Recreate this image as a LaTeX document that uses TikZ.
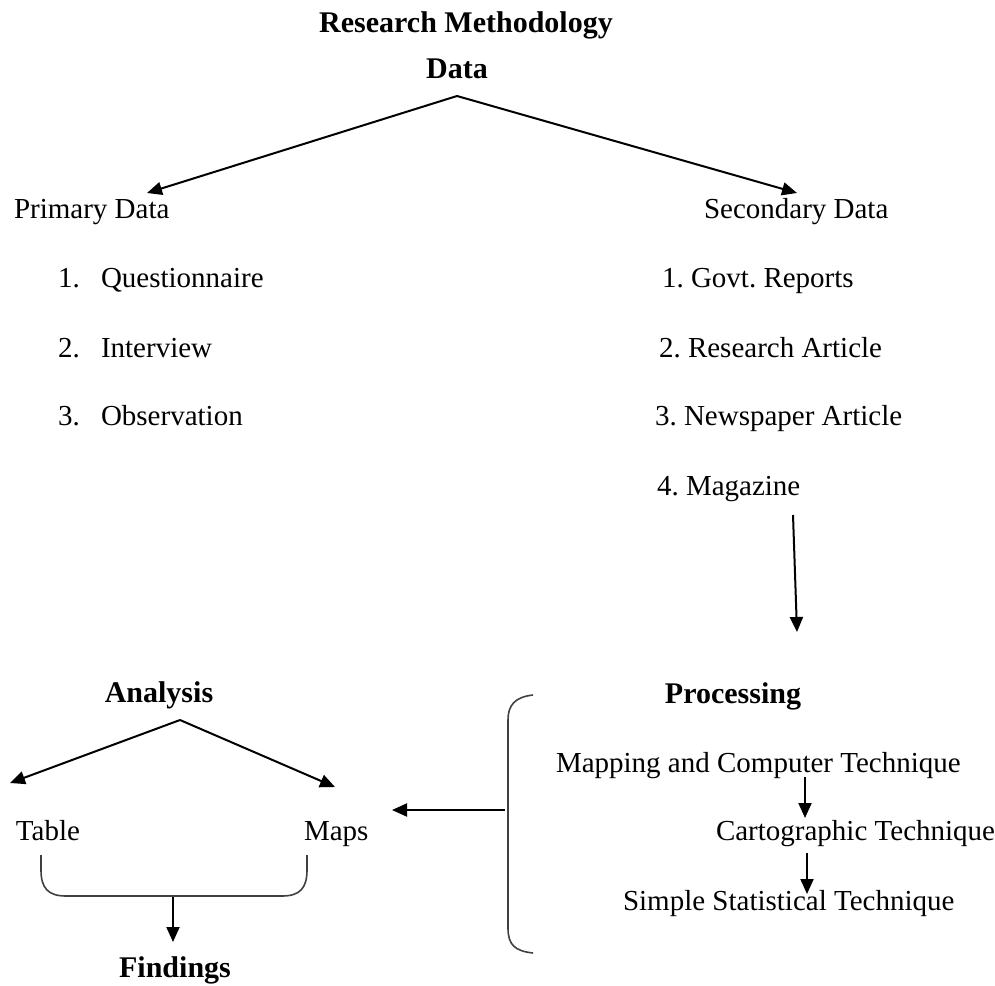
\documentclass[tikz,border=0pt]{standalone}
\usepackage{fontspec}
\setmainfont{Liberation Serif}
\usetikzlibrary{arrows.meta}
\frenchspacing

\tikzset{every picture/.style={line width=2pt}}
\tikzset{
  txt/.style={inner sep=0pt, anchor=base west, font=\fontsize{29}{34}\selectfont},
  ttl/.style={inner sep=0pt, anchor=base, font=\fontsize{30}{34}\selectfont\bfseries},
  arr/.style={-{Triangle[length=15pt,width=13pt]}},
  brk/.style={line width=1.6pt, draw=black!75}
}

\begin{document}
\begin{tikzpicture}[x=1pt,y=1pt,yscale=-1]
\useasboundingbox (0,0) rectangle (995,985);

%Text titles
\node [ttl] (title) at (466,32) {Research Methodology};
\node [ttl] (data) at (457,78) {Data};

%Text primary
\node [txt] (primary) at (13,218) {Primary Data};
\node [txt] (p1) at (57,287) {1.};
\node [txt] (q1) at (100,287) {Questionnaire};
\node [txt] (p2) at (57,357) {2.};
\node [txt] (q2) at (100,357) {Interview};
\node [txt] (p3) at (57,425) {3.};
\node [txt] (q3) at (100,425) {Observation};

%Text secondary
\node [txt] (secondary) at (703,218) {Secondary Data};
\node [txt] (s1) at (661,287) {1. Govt. Reports};
\node [txt] (s2) at (658,357) {2. Research Article};
\node [txt] (s3) at (654,425) {3. Newspaper Article};
\node [txt] (s4) at (656,495) {4. Magazine};

%Text processing
\node [ttl] (processing) at (733,703) {Processing};
\node [txt] (mapping) at (555,772) {Mapping and Computer Technique};
\node [txt] (carto) at (715,840) {Cartographic Technique};
\node [txt] (simple) at (622,910) {Simple Statistical Technique};

%Text analysis
\node [ttl] (analysis) at (159,702) {Analysis};
\node [txt] (table) at (15,840) {Table};
\node [txt] (maps) at (303,840) {Maps};
\node [ttl] (findings) at (175,977) {Findings};

%Arrow ends
\coordinate (data-apex) at (457,96);
\coordinate (primary-tip) at (147,193);
\coordinate (secondary-tip) at (797,193);
\coordinate (mag-start) at (793,515);
\coordinate (proc-tip) at (797,632);
\coordinate (ana-apex) at (180,720);
\coordinate (table-tip) at (10,783);
\coordinate (maps-tip) at (335,787);
\coordinate (join) at (173,896);
\coordinate (find-tip) at (173,942);
\coordinate (brace-mid) at (505,810);
\coordinate (ana-tip) at (392,810);
\coordinate (map-out) at (805,777);
\coordinate (carto-in) at (805,818);
\coordinate (carto-out) at (807,853);
\coordinate (simple-in) at (807,894);

%Straight Lines
\draw [arr] (data-apex) -- (primary-tip);
\draw [arr] (data-apex) -- (secondary-tip);
\draw [arr] (mag-start) -- (proc-tip);
\draw [arr] (ana-apex) -- (table-tip);
\draw [arr] (ana-apex) -- (maps-tip);
\draw [arr] (join) -- (find-tip);
\draw [arr] (brace-mid) -- (ana-tip);
\draw [arr] (map-out) -- (carto-in);
\draw [arr] (carto-out) -- (simple-in);

%Shape: Brace
\draw [brk] (533,695) .. controls (515,697) and (508,705) .. (508,720) -- (508,928) .. controls (508,945) and (515,951) .. (533,953);

%Shape: Bracket
\draw [brk] (41,855) -- (41,870) .. controls (41,888) and (48,896) .. (66,896) -- (282,896) .. controls (300,896) and (307,888) .. (307,870) -- (307,855);

\end{tikzpicture}
\end{document}
